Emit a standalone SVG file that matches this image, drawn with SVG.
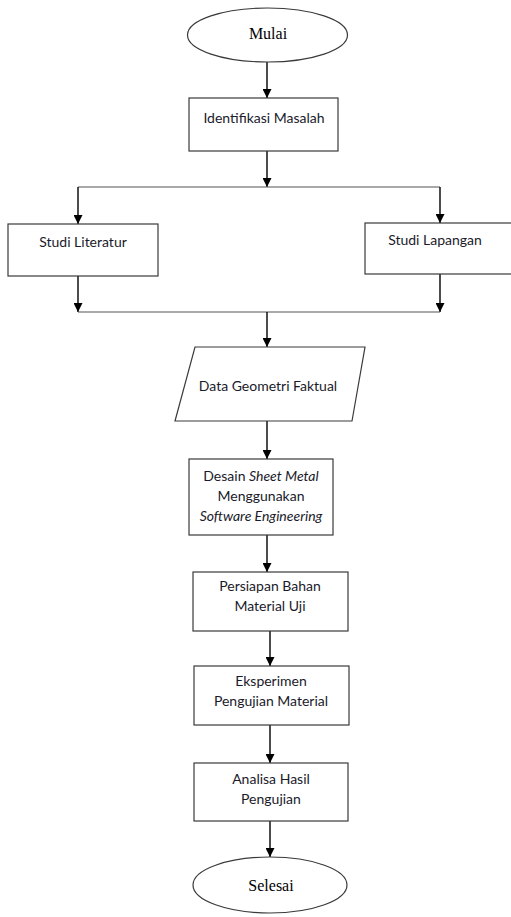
<svg xmlns="http://www.w3.org/2000/svg" width="511" height="917" viewBox="0 0 511 917">
<defs>
<marker id="arr" viewBox="0 0 10 10" refX="10" refY="5" markerWidth="9" markerHeight="9" markerUnits="userSpaceOnUse" orient="auto">
<path d="M0,0 L10,5 L0,10 z" fill="#000"/>
</marker>
<style>
.shape{fill:#fff;stroke:#3a3a3a;stroke-width:1.2}
.t{font-family:Lato,"Open Sans",sans-serif;font-size:14px;fill:#1a1a2a;text-anchor:middle}
.s{font-family:"Liberation Serif",serif;font-size:16px;fill:#000;text-anchor:middle}
.c{stroke:#000;stroke-width:1.4;fill:none}
.h{stroke:#555;stroke-width:1.2;fill:none}
.a{marker-end:url(#arr)}
</style>
</defs>
<rect width="511" height="917" fill="#fff"/>
<g id="connectors">
<line class="c a" x1="267" y1="62" x2="267" y2="98"/>
<line class="c a" x1="267" y1="151" x2="267" y2="187"/>
<line class="h" x1="78" y1="187" x2="440" y2="187"/>
<line class="c a" x1="78" y1="187" x2="78" y2="224"/>
<line class="c a" x1="440" y1="187" x2="440" y2="223"/>
<line class="c a" x1="78" y1="276" x2="78" y2="312"/>
<line class="c a" x1="440" y1="274" x2="440" y2="312"/>
<line class="h" x1="78" y1="312" x2="440" y2="312"/>
<line class="c a" x1="267" y1="312" x2="267" y2="347"/>
<line class="c a" x1="267" y1="421" x2="267" y2="459"/>
<line class="c a" x1="267" y1="535" x2="267" y2="572"/>
<line class="c a" x1="270" y1="631" x2="270" y2="666"/>
<line class="c a" x1="270" y1="725" x2="270" y2="763"/>
<line class="c a" x1="270" y1="821" x2="270" y2="857"/>
</g>
<g id="mulai">
<ellipse class="shape" cx="267.5" cy="35" rx="80" ry="27"/>
<text class="s" x="268" y="39">Mulai</text>
</g>
<g id="identifikasi">
<rect class="shape" x="189" y="98" width="149" height="53"/>
<text class="t" x="264" y="123">Identifikasi Masalah</text>
</g>
<g id="literatur">
<rect class="shape" x="8" y="224" width="150" height="52"/>
<text class="t" x="83" y="247">Studi Literatur</text>
</g>
<g id="lapangan">
<rect class="shape" x="365" y="223" width="150" height="51"/>
<text class="t" x="435" y="245">Studi Lapangan</text>
</g>
<g id="data">
<polygon class="shape" points="195,347 365,347 352,421 175,421"/>
<text class="t" x="268" y="391">Data Geometri Faktual</text>
</g>
<g id="desain">
<rect class="shape" x="189" y="459" width="144" height="76"/>
<text class="t" x="261" y="481">Desain <tspan font-style="italic">Sheet Metal</tspan></text>
<text class="t" x="261" y="501">Menggunakan</text>
<text class="t" x="261" y="521" font-style="italic">Software Engineering</text>
</g>
<g id="persiapan">
<rect class="shape" x="193" y="572" width="155" height="59"/>
<text class="t" x="270" y="591">Persiapan Bahan</text>
<text class="t" x="270" y="611">Material Uji</text>
</g>
<g id="eksperimen">
<rect class="shape" x="194" y="666" width="155" height="59"/>
<text class="t" x="271" y="686">Eksperimen</text>
<text class="t" x="271" y="706">Pengujian Material</text>
</g>
<g id="analisa">
<rect class="shape" x="194" y="763" width="154" height="58"/>
<text class="t" x="271" y="784">Analisa Hasil</text>
<text class="t" x="271" y="804">Pengujian</text>
</g>
<g id="selesai">
<ellipse class="shape" cx="270" cy="885" rx="77" ry="28"/>
<text class="s" x="271" y="891">Selesai</text>
</g>
</svg>
